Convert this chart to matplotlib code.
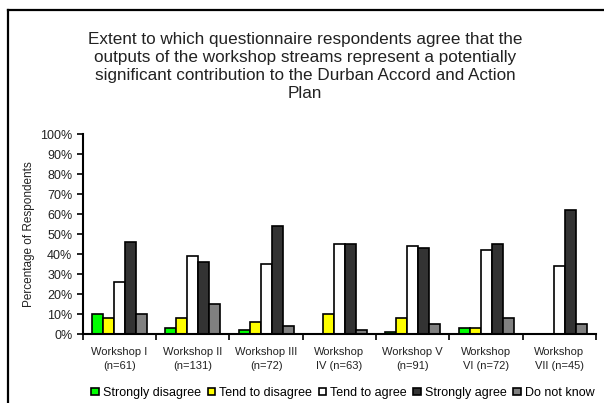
import numpy as np
import matplotlib.pyplot as plt
from matplotlib.lines import Line2D
from matplotlib.ticker import PercentFormatter

plt.rcParams['font.family'] = ['Liberation Sans', 'DejaVu Sans']

workshops = ["Workshop I\n(n=61)", "Workshop II\n(n=131)", "Workshop III\n(n=72)",
             "Workshop\nIV (n=63)", "Workshop V\n(n=91)", "Workshop\nVI (n=72)",
             "Workshop\nVII (n=45)"]
series = ["Strongly disagree", "Tend to disagree", "Tend to agree",
          "Strongly agree", "Do not know"]
strongly_disagree = [10, 3, 2, 0, 1, 3, 0]
tend_disagree = [8, 8, 6, 10, 8, 3, 0]
tend_agree = [26, 39, 35, 45, 44, 42, 34]
strongly_agree = [46, 36, 54, 45, 43, 45, 62]
do_not_know = [10, 15, 4, 2, 5, 8, 5]
values = [strongly_disagree, tend_disagree, tend_agree, strongly_agree, do_not_know]
colors = ['#00ff00', '#ffff00', '#ffffff', '#333333', '#808080']

fig = plt.figure(figsize=(6.04, 4.03), dpi=100)
ax = fig.add_axes([0.137, 0.171, 0.850, 0.496])

x = np.arange(len(workshops))
w = 0.15
for i, (vals, c, name) in enumerate(zip(values, colors, series)):
    ax.bar(x + (i - 2) * w, vals, w, color=c, edgecolor='black', linewidth=1.2, label=name)

ax.set_xlim(-0.5, len(workshops) - 0.5)
ax.set_ylim(0, 100)
ax.set_yticks(range(0, 101, 10))
ax.yaxis.set_major_formatter(PercentFormatter(decimals=0))
ax.set_xticks(x)
ax.set_xticklabels(workshops, fontsize=8, color='#222222', linespacing=1.6)
ax.set_xticks(np.arange(-0.5, len(workshops)), minor=True)
ax.tick_params(axis='x', which='major', length=0, pad=9)
ax.tick_params(axis='x', which='minor', length=4, width=1.2)
ax.tick_params(axis='y', length=4, width=1.2, labelsize=9, labelcolor='#222222')
for s in ['top', 'right']:
    ax.spines[s].set_visible(False)
for s in ['left', 'bottom']:
    ax.spines[s].set_linewidth(1.5)
ax.set_ylabel("Percentage of Respondents", fontsize=8.5, color='#222222', labelpad=4)

fig.text(0.505, 0.92,
         "Extent to which questionnaire respondents agree that the\n"
         "outputs of the workshop streams represent a potentially\n"
         "significant contribution to the Durban Accord and Action\n"
         "Plan", ha='center', va='top', fontsize=12.3, color='#222222', linespacing=1.25)

handles = [plt.Rectangle((0, 0), 1, 1, facecolor=c, edgecolor='black', linewidth=1.2)
           for c in colors]
fig.legend(handles, series, loc='center', bbox_to_anchor=(0.568, 0.025), ncol=5,
           frameon=False, fontsize=9, handlelength=0.6, handleheight=0.6,
           handletextpad=0.35, columnspacing=0.5)

fig.add_artist(Line2D([0.013, 1.0], [0.975, 0.975], color='black', linewidth=1.6,
                      transform=fig.transFigure))
fig.add_artist(Line2D([0.013, 0.013], [0.0, 0.975], color='black', linewidth=1.6,
                      transform=fig.transFigure))

fig.savefig('out.png', dpi=100)
